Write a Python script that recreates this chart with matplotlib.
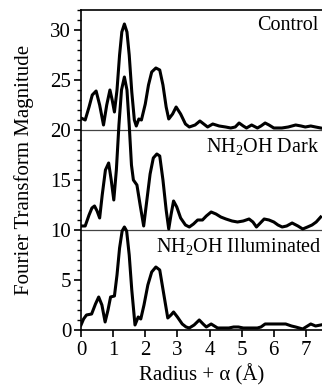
import matplotlib
matplotlib.use("Agg")
import matplotlib.pyplot as plt
from matplotlib.ticker import MultipleLocator

plt.rcParams['font.family'] = ['Liberation Serif', 'DejaVu Serif']
plt.rcParams['mathtext.fontset'] = 'custom'
plt.rcParams['mathtext.rm'] = 'Liberation Serif'
plt.rcParams['mathtext.it'] = 'Liberation Serif:italic'

# Control (offset +20)
control_x = [0.00, 0.13, 0.25, 0.35, 0.47, 0.58, 0.70, 0.80, 0.90, 0.97, 1.04, 1.12, 1.20, 1.27,
             1.35, 1.43, 1.50, 1.58, 1.66, 1.72, 1.80, 1.88, 2.00, 2.10, 2.20, 2.33, 2.45, 2.55,
             2.65, 2.73, 2.85, 2.96, 3.10, 3.25, 3.37, 3.55, 3.70, 3.82, 3.94, 4.10, 4.30, 4.50,
             4.66, 4.80, 4.92, 5.05, 5.15, 5.31, 5.49, 5.60, 5.73, 5.85, 6.00, 6.25, 6.45, 6.68,
             6.85, 6.98, 7.15, 7.30, 7.46]
control_y = [21.2, 21.0, 22.3, 23.5, 23.9, 22.5, 20.5, 22.5, 24.0, 23.0, 21.8, 24.0, 27.5, 29.8,
             30.6, 29.8, 27.5, 23.8, 21.0, 20.4, 21.1, 21.0, 22.6, 24.5, 25.8, 26.2, 26.0, 24.5,
             22.3, 21.1, 21.6, 22.3, 21.6, 20.6, 20.3, 20.5, 20.9, 20.6, 20.3, 20.6, 20.4, 20.3,
             20.2, 20.3, 20.7, 20.4, 20.2, 20.5, 20.2, 20.4, 20.7, 20.5, 20.2, 20.2, 20.3, 20.5,
             20.4, 20.3, 20.4, 20.3, 20.2]

# NH2OH Dark (offset +10)
dark_x = [0.00, 0.13, 0.25, 0.34, 0.42, 0.50, 0.58, 0.66, 0.76, 0.86, 0.94, 1.02, 1.10, 1.18,
          1.26, 1.35, 1.43, 1.50, 1.57, 1.63, 1.74, 1.84, 1.95, 2.05, 2.15, 2.25, 2.36, 2.45,
          2.55, 2.65, 2.73, 2.80, 2.88, 2.98, 3.10, 3.25, 3.37, 3.50, 3.63, 3.78, 3.90, 4.05,
          4.20, 4.35, 4.51, 4.70, 4.87, 5.05, 5.23, 5.35, 5.46, 5.58, 5.70, 5.85, 6.00, 6.13,
          6.26, 6.40, 6.57, 6.75, 6.90, 7.05, 7.19, 7.32, 7.46]
dark_y = [10.4, 10.4, 11.5, 12.2, 12.4, 11.9, 11.2, 13.5, 16.0, 16.7, 15.0, 13.0, 16.0, 20.5,
          24.0, 25.3, 24.0, 20.5, 16.5, 15.0, 14.5, 12.5, 10.4, 13.0, 15.6, 17.2, 17.6, 17.4,
          15.0, 12.0, 10.1, 11.5, 12.9, 12.3, 11.2, 10.5, 10.3, 10.6, 11.0, 11.0, 11.4, 11.8,
          11.6, 11.3, 11.1, 10.9, 10.8, 10.9, 11.1, 10.8, 10.3, 10.7, 11.1, 11.0, 10.8, 10.5,
          10.3, 10.4, 10.7, 10.4, 10.1, 10.3, 10.5, 10.8, 11.3]

# NH2OH Illuminated (offset 0)
illum_x = [0.00, 0.08, 0.17, 0.33, 0.45, 0.55, 0.65, 0.75, 0.84, 0.92, 1.04, 1.12, 1.20, 1.28,
           1.35, 1.42, 1.50, 1.58, 1.68, 1.78, 1.86, 1.96, 2.08, 2.20, 2.33, 2.45, 2.58, 2.70,
           2.80, 2.88, 3.00, 3.15, 3.27, 3.37, 3.52, 3.68, 3.80, 3.90, 4.05, 4.25, 4.45, 4.60,
           4.75, 4.90, 5.05, 5.25, 5.49, 5.60, 5.73, 5.96, 6.15, 6.37, 6.55, 6.68, 6.90, 7.05,
           7.15, 7.30, 7.46]
illum_y = [0.5, 1.1, 1.5, 1.6, 2.6, 3.3, 2.5, 0.8, 2.0, 3.3, 3.4, 5.5, 8.2, 9.9,
           10.3, 9.9, 7.5, 4.0, 0.5, 1.3, 1.1, 2.5, 4.5, 5.8, 6.3, 6.0, 3.5, 1.2,
           1.5, 1.8, 1.3, 0.6, 0.3, 0.2, 0.5, 1.0, 0.6, 0.3, 0.6, 0.2, 0.2, 0.2,
           0.3, 0.3, 0.2, 0.2, 0.2, 0.3, 0.6, 0.6, 0.6, 0.6, 0.4, 0.3, 0.1, 0.4,
           0.6, 0.4, 0.5]

baselines = [20, 10]
labels = ['Control', r'NH$_2$OH Dark', r'NH$_2$OH Illuminated']
label_y = [31.4, 19.4, 9.4]

x_ticks = [0, 1, 2, 3, 4, 5, 6, 7]
y_ticks = [0, 5, 10, 15, 20, 25, 30]

fig = plt.figure(figsize=(3.22, 3.89), dpi=100)
ax = fig.add_axes([0.2516, 0.1517, 0.7484, 0.8226])

for xs, ys in [(control_x, control_y), (dark_x, dark_y), (illum_x, illum_y)]:
    ax.plot(xs, ys, color='black', lw=2.2, solid_joinstyle='round', zorder=3)

for b in baselines:
    ax.axhline(b, color='#444444', lw=0.9, zorder=2)

ax.text(7.4, label_y[0], labels[0], ha='right', va='top', fontsize=14.5)
ax.text(7.4, label_y[1], labels[1], ha='right', va='top', fontsize=14.5)
ax.text(7.48, label_y[2], labels[2], ha='right', va='top', fontsize=14.5)

ax.set_xlim(0, 7.5)
ax.set_ylim(0, 32)
ax.set_xticks(x_ticks)
ax.set_yticks(y_ticks)
ax.yaxis.set_minor_locator(MultipleLocator(1))
ax.tick_params(axis='both', which='major', direction='out', length=5, width=1.2,
               labelsize=15, pad=2)
ax.tick_params(axis='x', which='major', pad=3)
ax.tick_params(axis='y', which='minor', direction='out', length=3, width=1)
ax.spines['right'].set_visible(False)
for s in ['left', 'bottom', 'top']:
    ax.spines[s].set_linewidth(1.2)

ax.set_xlabel('Radius + α (Å)', fontsize=15, labelpad=3)
ax.set_ylabel('Fourier Transform Magnitude', fontsize=15, labelpad=12)

fig.savefig('out.png', dpi=100)
